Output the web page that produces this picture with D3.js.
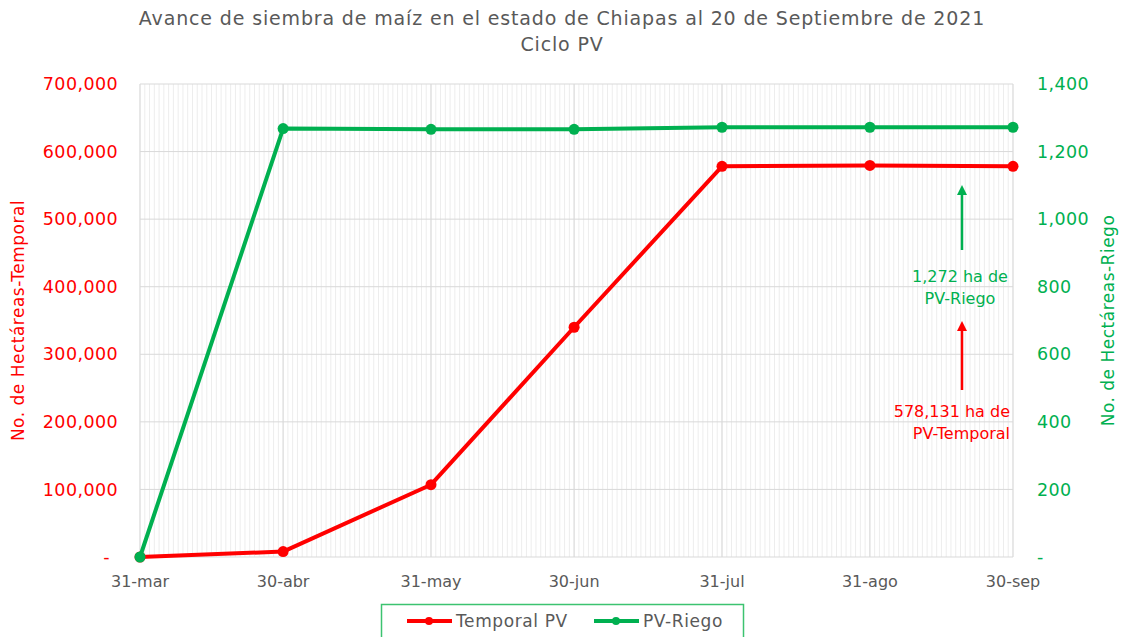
<!DOCTYPE html>
<html>
<head>
<meta charset="utf-8">
<script src="https://cdn.jsdelivr.net/npm/d3@7"></script>
<style>
  body { margin: 0; background: #fff; }
  text { font-family: "DejaVu Sans", sans-serif; }
</style>
</head>
<body>
<div id="chart"></div>
<script>
// data
var dates = ["2021-03-31", "2021-04-30", "2021-05-31", "2021-06-30", "2021-07-31", "2021-08-31", "2021-09-30"];
var tickLabels = ["31-mar", "30-abr", "31-may", "30-jun", "31-jul", "31-ago", "30-sep"];
var temporal = [0, 8000, 107000, 340000, 578131, 579500, 578131];
var riego = [0, 1268, 1266, 1266, 1272, 1272, 1272];
var leftTicks = [0, 100000, 200000, 300000, 400000, 500000, 600000, 700000];
var rightTicks = [0, 200, 400, 600, 800, 1000, 1200, 1400];

var red = "#ff0000", green = "#00b050";
var W = 1123, H = 637;
var margin = { top: 84, right: 110, bottom: 80, left: 140 };
var width = W - margin.left - margin.right;
var height = H - margin.top - margin.bottom;

var parse = d3.timeParse("%Y-%m-%d");
var dateVals = dates.map(parse);

var svg = d3.select("#chart").append("svg")
    .attr("width", W)
    .attr("height", H);

var g = svg.append("g")
    .attr("transform", "translate(" + margin.left + "," + margin.top + ")");

var x = d3.scaleTime().domain([dateVals[0], dateVals[dateVals.length - 1]]).range([0, width]);
var yL = d3.scaleLinear().domain([0, 700000]).range([height, 0]);
var yR = d3.scaleLinear().domain([0, 1400]).range([height, 0]);

// minor daily gridlines
var days = d3.timeDay.range(dateVals[0], d3.timeDay.offset(dateVals[dateVals.length - 1], 1));
g.selectAll(".minor").data(days).enter().append("line")
    .attr("x1", function(d) { return x(d); })
    .attr("x2", function(d) { return x(d); })
    .attr("y1", 0).attr("y2", height)
    .attr("stroke", "#ededed").attr("stroke-width", 1);

// major gridlines
g.selectAll(".hgrid").data(leftTicks).enter().append("line")
    .attr("x1", 0).attr("x2", width)
    .attr("y1", function(d) { return yL(d); })
    .attr("y2", function(d) { return yL(d); })
    .attr("stroke", "#d9d9d9").attr("stroke-width", 1);

g.selectAll(".vgrid").data(dateVals).enter().append("line")
    .attr("x1", function(d) { return x(d); })
    .attr("x2", function(d) { return x(d); })
    .attr("y1", 0).attr("y2", height)
    .attr("stroke", "#d9d9d9").attr("stroke-width", 1);

// left axis labels
var fmt = d3.format(",");
g.selectAll(".ltick").data(leftTicks).enter().append("text")
    .attr("x", function(d) { return d === 0 ? -30 : -22; })
    .attr("y", function(d) { return yL(d); })
    .attr("dy", "0.35em")
    .attr("text-anchor", "end")
    .attr("fill", red)
    .style("font-size", "17.5px")
    .style("letter-spacing", "0.4px")
    .text(function(d) { return d === 0 ? "-" : fmt(d); });

// right axis labels
g.selectAll(".rtick").data(rightTicks).enter().append("text")
    .attr("x", width + 24)
    .attr("y", function(d) { return yR(d); })
    .attr("dy", "0.35em")
    .attr("text-anchor", "start")
    .attr("fill", green)
    .style("font-size", "17.5px")
    .style("letter-spacing", "0.4px")
    .text(function(d) { return d === 0 ? "-" : fmt(d); });

// x axis labels
g.selectAll(".xtick").data(dateVals).enter().append("text")
    .attr("x", function(d) { return x(d); })
    .attr("y", height + 30)
    .attr("text-anchor", "middle")
    .attr("fill", "#595959")
    .style("font-size", "16px")
    .text(function(d, i) { return tickLabels[i]; });

// axis titles
svg.append("text")
    .attr("transform", "translate(24," + (margin.top + height / 2) + ") rotate(-90)")
    .attr("text-anchor", "middle")
    .attr("fill", red)
    .style("font-size", "17px")
    .style("letter-spacing", "0.5px")
    .text("No. de Hectáreas-Temporal");

svg.append("text")
    .attr("transform", "translate(1114," + (margin.top + height / 2) + ") rotate(-90)")
    .attr("text-anchor", "middle")
    .attr("fill", green)
    .style("font-size", "17px")
    .style("letter-spacing", "0.5px")
    .text("No. de Hectáreas-Riego");

// title
svg.append("text")
    .attr("x", 562).attr("y", 25)
    .attr("text-anchor", "middle")
    .attr("fill", "#595959")
    .style("font-size", "19px")
    .style("letter-spacing", "0.85px")
    .text("Avance de siembra de maíz en el estado de Chiapas al 20 de Septiembre de 2021");
svg.append("text")
    .attr("x", 562).attr("y", 51)
    .attr("text-anchor", "middle")
    .attr("fill", "#595959")
    .style("font-size", "19px")
    .style("letter-spacing", "0.85px")
    .text("Ciclo PV");

// series
var lineL = d3.line().x(function(d, i) { return x(dateVals[i]); }).y(function(d) { return yL(d); });
var lineR = d3.line().x(function(d, i) { return x(dateVals[i]); }).y(function(d) { return yR(d); });

g.append("path").datum(temporal)
    .attr("d", lineL).attr("fill", "none")
    .attr("stroke", red).attr("stroke-width", 4).attr("stroke-linejoin", "round");
g.selectAll(".dotL").data(temporal).enter().append("circle")
    .attr("cx", function(d, i) { return x(dateVals[i]); })
    .attr("cy", function(d) { return yL(d); })
    .attr("r", 5.5).attr("fill", red);

g.append("path").datum(riego)
    .attr("d", lineR).attr("fill", "none")
    .attr("stroke", green).attr("stroke-width", 4).attr("stroke-linejoin", "round");
g.selectAll(".dotR").data(riego).enter().append("circle")
    .attr("cx", function(d, i) { return x(dateVals[i]); })
    .attr("cy", function(d) { return yR(d); })
    .attr("r", 5.5).attr("fill", green);

// annotations
var defs = svg.append("defs");
[["arrowG", green], ["arrowR", red]].forEach(function(a) {
    defs.append("marker")
        .attr("id", a[0])
        .attr("viewBox", "0 0 10 10")
        .attr("refX", 5).attr("refY", 5)
        .attr("markerWidth", 4).attr("markerHeight", 4)
        .attr("orient", "auto")
        .append("path").attr("d", "M0,0L10,5L0,10Z").attr("fill", a[1]);
});

svg.append("line")
    .attr("x1", 962).attr("x2", 962).attr("y1", 250).attr("y2", 190)
    .attr("stroke", green).attr("stroke-width", 2.5).attr("marker-end", "url(#arrowG)");
svg.append("line")
    .attr("x1", 962).attr("x2", 962).attr("y1", 390).attr("y2", 326)
    .attr("stroke", red).attr("stroke-width", 2.5).attr("marker-end", "url(#arrowR)");

svg.append("text").attr("x", 960).attr("y", 282).attr("text-anchor", "middle")
    .attr("fill", green).style("font-size", "16px").text("1,272 ha de");
svg.append("text").attr("x", 960).attr("y", 304).attr("text-anchor", "middle")
    .attr("fill", green).style("font-size", "16px").text("PV-Riego");
svg.append("text").attr("x", 1010).attr("y", 417).attr("text-anchor", "end")
    .attr("fill", red).style("font-size", "16px").text("578,131 ha de");
svg.append("text").attr("x", 1010).attr("y", 439).attr("text-anchor", "end")
    .attr("fill", red).style("font-size", "16px").text("PV-Temporal");

// legend
var legend = svg.append("g");
legend.append("rect")
    .attr("x", 381.5).attr("y", 604.5).attr("width", 362).attr("height", 40)
    .attr("fill", "#fff").attr("stroke", "#3cc370").attr("stroke-width", 1.5);
var legItems = [{ name: "Temporal PV", color: red, x: 407 }, { name: "PV-Riego", color: green, x: 594 }];
legItems.forEach(function(it) {
    legend.append("line")
        .attr("x1", it.x).attr("x2", it.x + 45).attr("y1", 621).attr("y2", 621)
        .attr("stroke", it.color).attr("stroke-width", 4);
    legend.append("circle")
        .attr("cx", it.x + 22).attr("cy", 621).attr("r", 4).attr("fill", it.color);
    legend.append("text")
        .attr("x", it.x + 49).attr("y", 627)
        .attr("fill", "#595959").style("font-size", "17px")
        .style("letter-spacing", "0.6px")
        .text(it.name);
});
</script>
</body>
</html>
